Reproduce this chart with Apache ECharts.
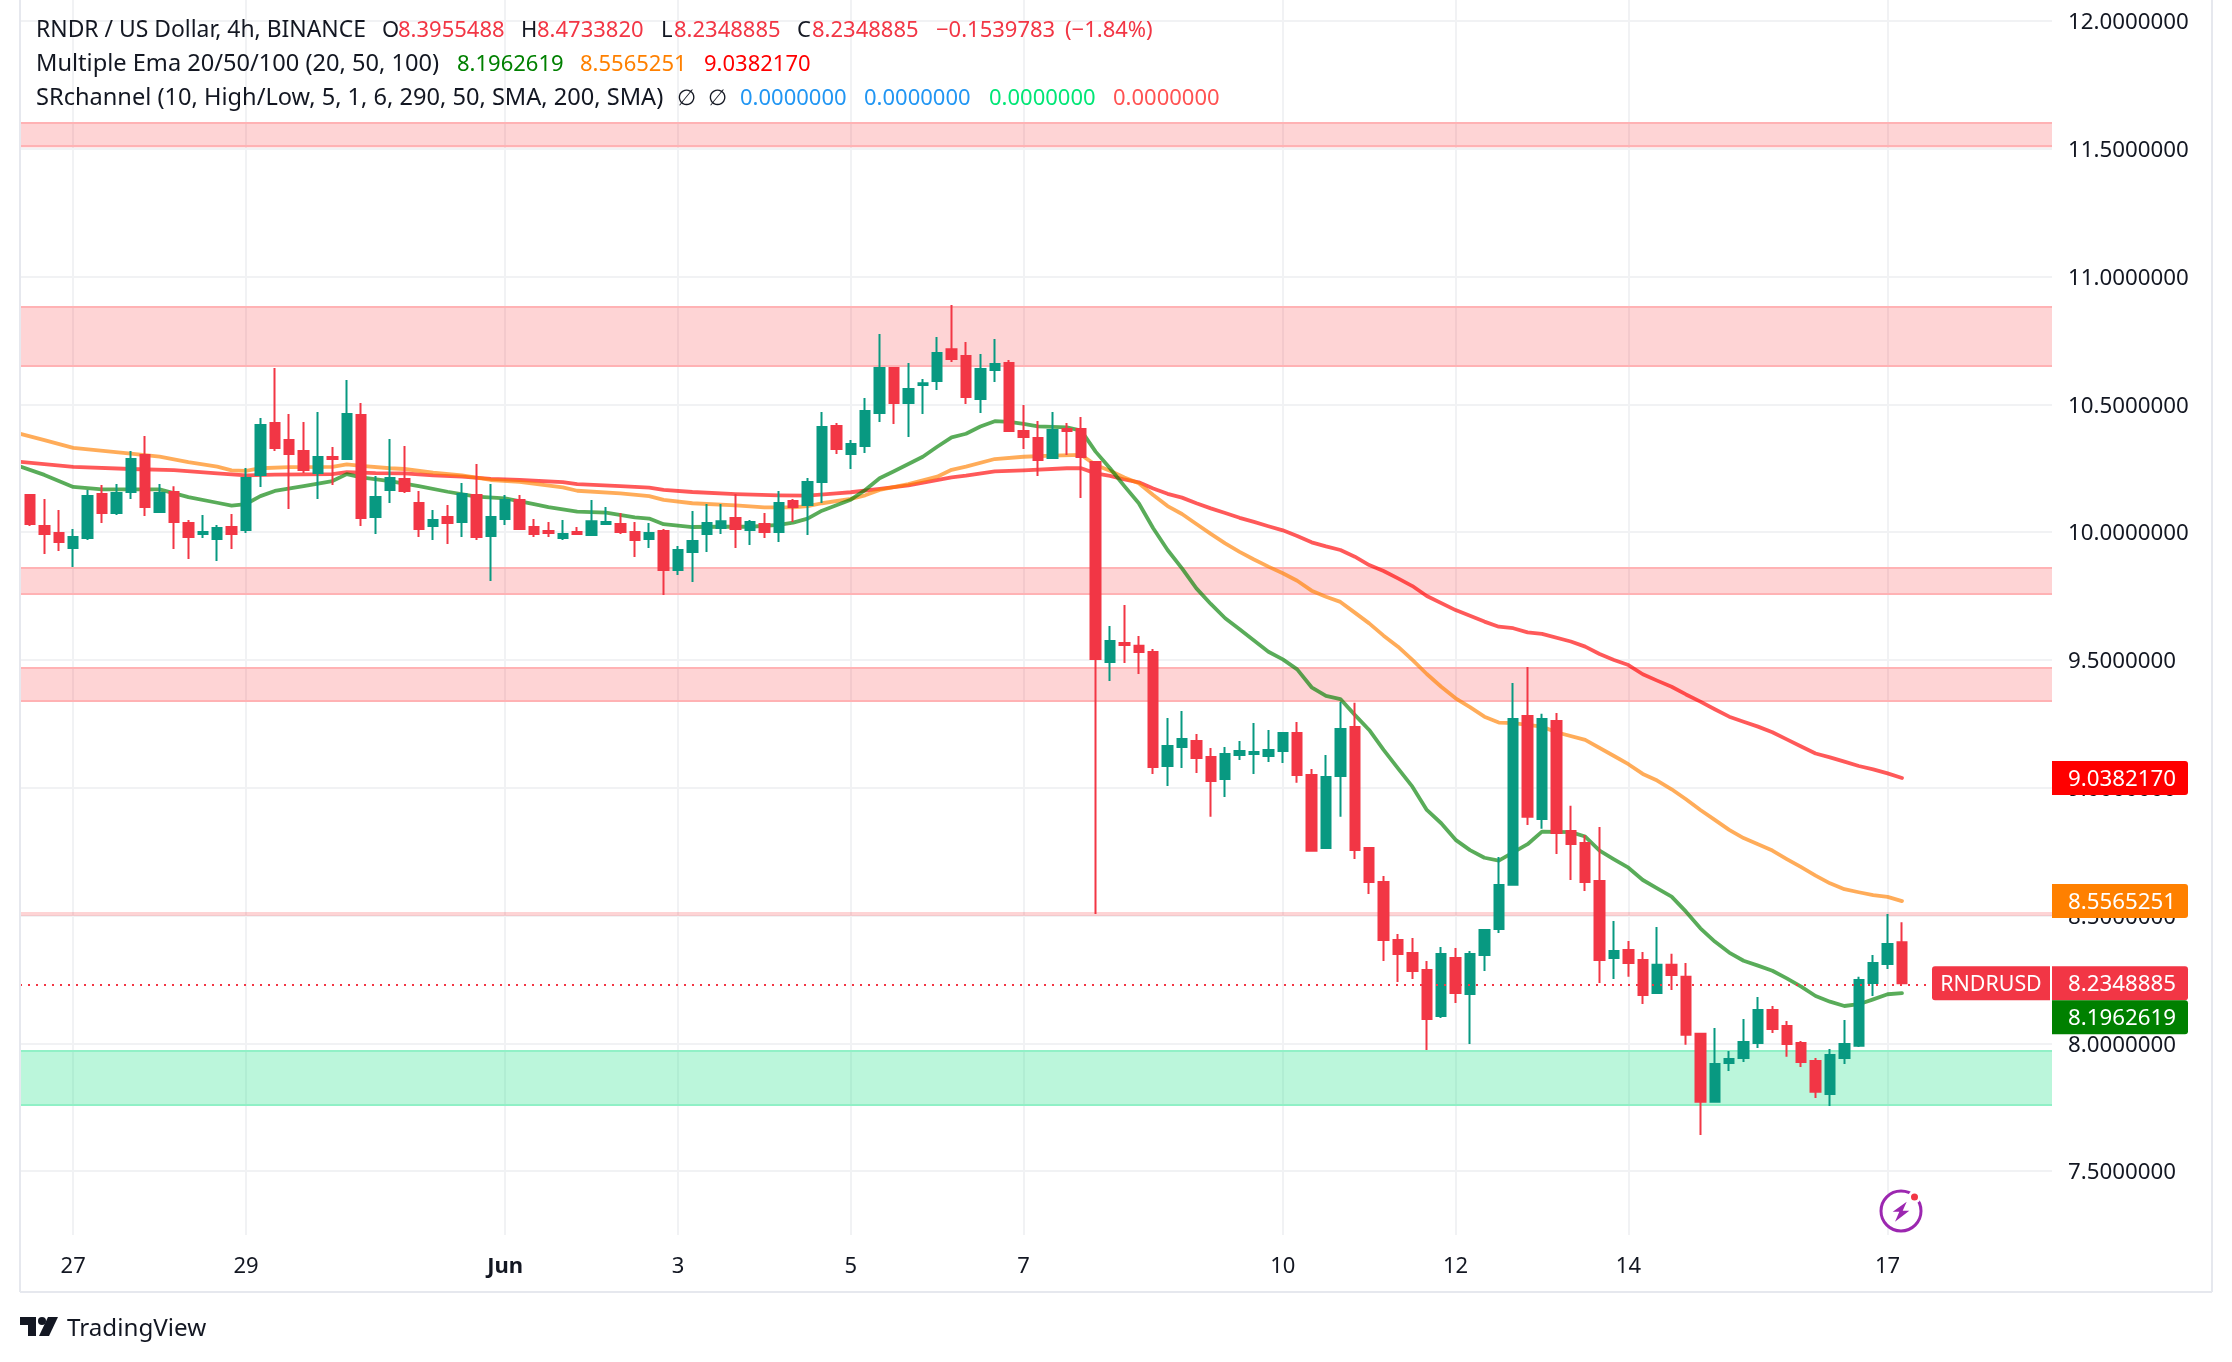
<!DOCTYPE html>
<html>
<head>
<meta charset="utf-8">
<title>RNDR / US Dollar</title>
<style>
    html, body { margin: 0; padding: 0; background: #fff; }
    #main { width: 2232px; height: 1362px; }
</style>
<script src="https://cdn.jsdelivr.net/npm/echarts@6/dist/echarts.min.js"></script>
</head>
<body>
<div id="main"></div>
<script>
// candles, index 0 is the first 4h bar on screen
var opens = [10.145,10.024,9.997,9.938,9.977,10.149,10.075,10.157,10.302,10.079,10.157,10.036,9.993,9.973,10.020,10.008,10.224,10.427,10.360,10.317,
    10.231,10.294,10.286,10.458,10.059,10.165,10.208,10.114,10.024,10.059,10.040,10.145,9.985,10.051,10.126,10.020,10.004,9.977,10.001,9.989,
    10.032,10.032,10.001,9.973,10.004,9.852,9.922,9.993,10.016,10.055,10.008,10.032,10.001,10.122,10.106,10.196,10.415,10.306,10.337,10.466,
    10.642,10.505,10.576,10.591,10.716,10.689,10.521,10.634,10.662,10.396,10.368,10.290,10.404,10.404,10.274,9.492,9.566,9.555,9.531,9.085,
    9.159,9.183,9.120,9.034,9.128,9.132,9.124,9.144,9.214,9.050,8.764,9.046,9.238,8.764,8.631,8.404,8.353,8.287,8.107,8.334,
    8.193,8.346,8.447,8.620,9.281,8.878,9.261,8.831,8.784,8.635,8.334,8.365,8.326,8.197,8.307,8.260,8.037,7.771,7.923,7.943,
    8.001,8.130,8.068,8.001,7.931,7.802,7.943,7.990,8.236,8.310,8.3955488];
var closes = [10.032,9.993,9.961,9.981,10.141,10.075,10.153,10.286,10.098,10.153,10.040,9.981,10.001,10.016,9.993,10.212,10.419,10.329,10.306,10.243,
    10.294,10.286,10.462,10.055,10.137,10.212,10.161,10.012,10.047,10.036,10.149,9.981,10.059,10.126,10.012,9.993,9.997,9.993,9.993,10.043,
    10.040,10.001,9.969,9.997,9.852,9.930,9.965,10.036,10.043,10.012,10.040,10.001,10.114,10.098,10.196,10.411,10.325,10.345,10.474,10.642,
    10.505,10.560,10.583,10.701,10.677,10.529,10.638,10.658,10.396,10.372,10.282,10.400,10.396,10.294,9.504,9.574,9.558,9.531,9.081,9.163,
    9.191,9.116,9.026,9.132,9.144,9.140,9.148,9.214,9.050,8.753,9.042,9.230,8.756,8.631,8.404,8.349,8.283,8.095,8.349,8.197,
    8.349,8.443,8.619,9.269,8.886,9.269,8.823,8.780,8.631,8.326,8.361,8.314,8.189,8.307,8.267,8.033,7.771,7.919,7.939,8.005,
    8.130,8.056,7.997,7.927,7.810,7.954,7.997,8.248,8.314,8.389,8.2348885];
var lows = [10.024,9.914,9.926,9.864,9.969,10.036,10.067,10.130,10.063,10.079,9.934,9.895,9.977,9.887,9.934,9.997,10.177,10.317,10.091,10.231,
    10.130,10.184,10.282,10.024,9.993,10.114,10.153,9.981,9.969,9.954,9.981,9.969,9.809,10.028,10.012,9.981,9.981,9.969,9.993,9.989,
    10.032,9.993,9.903,9.938,9.754,9.832,9.805,9.922,9.993,9.938,9.950,9.977,9.961,10.040,9.989,10.114,10.306,10.247,10.310,10.431,
    10.423,10.372,10.462,10.556,10.666,10.501,10.466,10.587,10.392,10.325,10.220,10.286,10.302,10.134,8.506,9.418,9.488,9.445,9.054,9.007,
    9.077,9.058,8.886,8.964,9.108,9.054,9.101,9.097,9.019,8.753,8.760,8.886,8.721,8.584,8.322,8.240,8.252,7.974,8.099,8.158,
    7.997,8.283,8.432,8.616,8.854,8.839,8.741,8.639,8.596,8.236,8.252,8.260,8.154,8.193,8.209,7.994,7.641,7.771,7.892,7.927,
    7.982,8.040,7.947,7.907,7.786,7.755,7.919,7.986,8.185,8.291,8.2348885];
var highs = [10.149,10.130,10.087,10.012,10.165,10.184,10.188,10.317,10.376,10.188,10.180,10.047,10.067,10.028,10.071,10.251,10.447,10.642,10.462,10.431,
    10.470,10.333,10.595,10.505,10.220,10.364,10.337,10.161,10.087,10.106,10.192,10.267,10.188,10.145,10.145,10.051,10.040,10.047,10.020,10.126,
    10.098,10.075,10.040,10.036,10.012,9.946,10.083,10.110,10.110,10.149,10.047,10.075,10.161,10.130,10.212,10.470,10.427,10.360,10.525,10.775,
    10.642,10.662,10.599,10.763,10.889,10.744,10.697,10.756,10.673,10.497,10.435,10.470,10.427,10.450,10.274,9.633,9.715,9.594,9.543,9.273,
    9.300,9.210,9.155,9.159,9.183,9.253,9.226,9.214,9.257,9.073,9.128,9.335,9.332,8.764,8.655,8.428,8.412,8.322,8.377,8.373,
    8.361,8.443,8.729,9.410,9.472,9.289,9.292,8.929,8.815,8.846,8.479,8.400,8.357,8.455,8.350,8.314,8.040,8.060,7.970,8.095,
    8.181,8.146,8.087,8.009,7.943,7.978,8.091,8.260,8.346,8.506,8.4733820];

// EMA lines, read at the bars where the line visibly bends
var ema20Idx = [-1,1,3,5,7,9,11,13,14,15,16,17,19,21,22,23,25,27,29,31,33,35,36,38,40,42,43,44,46,48,50,52,53,54,55,57,58,59,60,62,63,64,65,66,67,68,69,70,72,73,
    74,75,76,77,78,79,80,81,82,83,84,86,87,88,89,90,91,92,93,94,95,96,97,98,99,100,101,102,104,105,107,108,109,110,111,
    112,113,114,115,116,117,118,119,120,121,122,123,124,125,126,127,128,129,130];
var ema20 = [10.263,10.224,10.177,10.167,10.167,10.167,10.137,10.115,10.104,10.110,10.141,10.161,10.180,10.200,10.227,10.214,10.200,10.180,10.158,10.139,10.132,10.110,10.098,10.080,10.076,10.058,10.053,10.031,10.020,10.021,10.021,10.028,10.037,10.053,10.084,10.127,10.165,10.211,10.238,10.295,10.334,10.371,10.385,10.413,10.434,10.431,10.424,10.414,10.410,10.397,
    10.315,10.250,10.180,10.113,10.015,9.930,9.858,9.780,9.719,9.663,9.620,9.532,9.502,9.463,9.393,9.359,9.347,9.285,9.226,9.148,9.076,9.004,8.913,8.861,8.796,8.756,8.726,8.715,8.779,8.828,8.826,8.809,8.754,8.720,8.687,
    8.639,8.606,8.574,8.515,8.450,8.398,8.355,8.323,8.304,8.284,8.254,8.222,8.185,8.163,8.146,8.153,8.172,8.192,8.1962619];
var ema50Idx = [-1,1,3,7,9,11,13,14,15,16,18,21,22,23,25,26,28,30,32,34,37,38,41,43,44,46,49,51,53,54,55,57,58,59,61,63,64,65,67,69,71,73,
    74,75,76,77,78,79,80,81,82,83,84,85,86,87,88,89,90,91,92,93,94,95,96,97,98,99,100,101,102,103,104,105,106,108,110,
    111,112,113,114,115,116,117,118,119,120,121,122,123,124,125,126,127,128,129,130];
var ema50 = [10.389,10.360,10.330,10.307,10.295,10.274,10.256,10.242,10.240,10.250,10.254,10.255,10.265,10.259,10.250,10.247,10.233,10.222,10.204,10.197,10.175,10.162,10.152,10.141,10.126,10.113,10.105,10.097,10.097,10.102,10.113,10.130,10.144,10.165,10.188,10.217,10.244,10.256,10.286,10.295,10.299,10.302,
    10.263,10.240,10.214,10.191,10.145,10.102,10.071,10.032,9.993,9.956,9.923,9.893,9.865,9.839,9.810,9.771,9.747,9.727,9.685,9.643,9.595,9.552,9.500,9.445,9.395,9.350,9.315,9.278,9.255,9.253,9.246,9.239,9.217,9.187,9.124,
    9.092,9.054,9.028,8.994,8.955,8.913,8.874,8.835,8.803,8.779,8.754,8.721,8.689,8.656,8.626,8.603,8.591,8.580,8.573,8.5565251];
var ema100Idx = [-1,3,7,10,13,15,17,21,22,24,26,28,30,32,34,37,38,41,43,44,46,49,52,54,56,57,59,61,64,65,67,69,72,73,
    74,75,76,77,78,79,80,81,82,83,84,85,86,87,88,89,90,91,92,93,94,95,96,97,99,101,102,103,104,105,107,108,
    109,110,111,112,113,114,115,116,117,118,119,120,121,122,123,124,125,126,127,128,129,130];
var ema100 = [10.277,10.255,10.247,10.243,10.230,10.222,10.225,10.227,10.235,10.231,10.230,10.222,10.217,10.208,10.204,10.196,10.188,10.180,10.174,10.165,10.157,10.149,10.144,10.143,10.152,10.156,10.169,10.183,10.214,10.221,10.238,10.242,10.250,10.250,
    10.230,10.220,10.206,10.195,10.171,10.150,10.135,10.113,10.093,10.075,10.056,10.040,10.023,10.007,9.985,9.960,9.944,9.930,9.904,9.871,9.848,9.819,9.789,9.750,9.695,9.650,9.630,9.624,9.608,9.602,9.572,9.552,
    9.523,9.500,9.480,9.444,9.419,9.395,9.365,9.337,9.307,9.278,9.258,9.239,9.217,9.189,9.161,9.134,9.119,9.102,9.085,9.072,9.056,9.0382170];

// support / resistance bands
var zoneTops = [11.600,10.885,9.860,9.470,8.514,7.966];
var zoneBottoms = [11.505,10.646,9.758,9.339,8.498,7.759];
var zoneKinds = ['res','res','res','res','thin','sup'];

// axis ticks
var dateTickIdx = [3,15,33,45,57,69,87,99,111,129];
var dateTickLabels = ['27','29','Jun','3','5','7','10','12','14','17'];
var priceTicks = [7.5,8,8.5,9,9.5,10,10.5,11,11.5,12];

// last values
var lastClose = 8.2348885;
var lastEma20 = 8.1962619;
var lastEma50 = 8.5565251;
var lastEma100 = 9.0382170;

var UP = '#089981', DOWN = '#f23645', INK = '#131722', GRID = '#f1f2f4', BORDER = '#e6e8ee';
var FONT = '"Noto Sans", sans-serif';

var chart = echarts.init(document.getElementById('main'), null, {renderer: 'canvas'});

function pairs(xs, ys) {
    return xs.map(function(x, i) { return [x, ys[i]]; });
}

function emaSeries(name, xs, ys, color) {
    return {
        name: name,
        type: 'line',
        z: 2,
        symbol: 'none',
        silent: true,
        data: pairs(xs, ys),
        lineStyle: {width: 3.8, color: color, opacity: 0.65, cap: 'round', join: 'round'}
    };
}

var candles = opens.map(function(o, i) {
    return [i, o, closes[i], lows[i], highs[i]];
});

var zoneAreas = zoneTops.map(function(top, i) {
    return [{
        yAxis: top,
        itemStyle: {
            color: zoneKinds[i] === 'sup' ? 'rgba(20,225,130,0.29)' : 'rgba(250,50,55,0.21)'
        }
    }, {yAxis: zoneBottoms[i]}];
});

// band edges, the thin band has none
var zoneEdges = [];
zoneTops.forEach(function(top, i) {
    if (zoneKinds[i] === 'thin') { return; }
    var color = zoneKinds[i] === 'sup' ? '#90f0c6' : '#ffb2b4';
    zoneEdges.push({yAxis: top, lineStyle: {color: color}});
    zoneEdges.push({yAxis: zoneBottoms[i], lineStyle: {color: color}});
});

chart.setOption({
    backgroundColor: '#fff',
    animation: false,
    grid: {left: 20, top: 0, width: 2032, height: 1235},
    xAxis: {
        type: 'value',
        min: -0.694,
        max: 140.417,
        axisLine: {show: false},
        axisTick: {show: false, customValues: dateTickIdx},
        splitLine: {show: true, lineStyle: {color: GRID, width: 2}},
        axisLabel: {
            customValues: dateTickIdx,
            margin: 21,
            color: INK,
            fontFamily: FONT,
            fontSize: 22,
            formatter: function(v) {
                var s = dateTickLabels[dateTickIdx.indexOf(v)];
                return s === 'Jun' ? '{b|Jun}' : s;
            },
            rich: {b: {fontWeight: 'bold', fontFamily: FONT, fontSize: 22, color: INK}}
        }
    },
    yAxis: {
        type: 'value',
        position: 'right',
        min: 7.25,
        max: 12.082,
        axisLine: {show: false},
        axisTick: {show: false, customValues: priceTicks},
        splitLine: {show: true, lineStyle: {color: GRID, width: 2}},
        axisLabel: {
            customValues: priceTicks,
            margin: 16,
            color: INK,
            formatter: function(v) { return '{p|' + v.toFixed(7) + '}'; },
            rich: {p: {fontFamily: FONT, fontSize: 22.3, color: INK, padding: [4, 0, 0, 0]}}
        }
    },
    series: [
        {
            name: 'zones',
            type: 'line',
            z: 1,
            data: [],
            silent: true,
            markArea: {silent: true, z: 1, data: zoneAreas},
            markLine: {
                silent: true,
                z: 1,
                symbol: 'none',
                label: {show: false},
                lineStyle: {type: 'solid', width: 2, opacity: 1},
                data: zoneEdges
            }
        },
        emaSeries('EMA 100', ema100Idx, ema100, '#ff0000'),
        emaSeries('EMA 50', ema50Idx, ema50, '#ff8000'),
        emaSeries('EMA 20', ema20Idx, ema20, '#008000'),
        {
            name: 'RNDRUSD',
            type: 'candlestick',
            z: 3,
            barWidth: 10,
            data: candles,
            itemStyle: {color: UP, color0: DOWN, borderColor: UP, borderColor0: DOWN, borderWidth: 2},
            markLine: {
                silent: true,
                symbol: 'none',
                z: 4,
                label: {show: false},
                lineStyle: {color: DOWN, type: [2, 6], width: 2, opacity: 1},
                data: [{yAxis: lastClose}]
            }
        }
    ]
});

function text(x, y, s, color, extra) {
    var style = {x: x, y: y, text: s, fill: color, font: '22px ' + FONT, textVerticalAlign: 'middle'};
    for (var k in extra) { style[k] = extra[k]; }
    return {type: 'text', z: 110, silent: true, style: style};
}

function tag(yCenter, label, color) {
    return [{
        type: 'rect', z: 105, silent: true,
        shape: {x: 2052, y: yCenter - 17, width: 136, height: 34, r: [0, 3, 3, 0]},
        style: {fill: color}
    }, text(2068, yCenter + 1.5, label, '#fff', {font: '22.3px ' + FONT})];
}

var py = function(v) { return chart.convertToPixel({yAxisIndex: 0}, v); };
var closeY = py(lastClose);

// x, y, text, colour, font size if not 22
var legendTexts = [
    [36, 30.5, 'RNDR / US Dollar, 4h, BINANCE', INK, 22.9],
    [382, 30.5, 'O', INK], [398, 30.5, '8.3955488', DOWN],
    [521, 30.5, 'H', INK], [537, 30.5, '8.4733820', DOWN],
    [661, 30.5, 'L', INK], [674, 30.5, '8.2348885', DOWN],
    [797, 30.5, 'C', INK], [812, 30.5, '8.2348885', DOWN],
    [936, 30.5, '\u22120.1539783', DOWN], [1065, 30.5, '(\u22121.84%)', DOWN],
    [36, 64.5, 'Multiple Ema 20/50/100 (20, 50, 100)', INK, 23.6],
    [457, 64.5, '8.1962619', '#008000'], [580, 64.5, '8.5565251', '#ff8000'], [704, 64.5, '9.0382170', '#ff0000'],
    [36, 98.5, 'SRchannel (10, High/Low, 5, 1, 6, 290, 50, SMA, 200, SMA)', INK, 23.6],
    [677, 98.5, '\u2205', INK], [708, 98.5, '\u2205', INK],
    [740, 98.5, '0.0000000', '#2196f3'], [864, 98.5, '0.0000000', '#2196f3'],
    [989, 98.5, '0.0000000', '#00e676'], [1113, 98.5, '0.0000000', '#ff5252']
];

var gfx = [
    // covers the line ends that stick out past the pane
    {type: 'rect', z: 49, silent: true, shape: {x: 0, y: 0, width: 20, height: 1292}, style: {fill: '#fff'}},
    // pane frame
    {type: 'line', z: 50, silent: true, shape: {x1: 20, y1: 0, x2: 20, y2: 1292}, style: {stroke: BORDER, lineWidth: 2}},
    {type: 'line', z: 50, silent: true, shape: {x1: 20, y1: 1292, x2: 2212, y2: 1292}, style: {stroke: BORDER, lineWidth: 2}},
    {type: 'line', z: 50, silent: true, shape: {x1: 2212, y1: 0, x2: 2212, y2: 1292}, style: {stroke: BORDER, lineWidth: 2}},
    // RNDRUSD name tag
    {type: 'rect', z: 105, silent: true, shape: {x: 1932, y: closeY - 17, width: 118, height: 34, r: [3, 0, 0, 3]}, style: {fill: DOWN}},
    text(1991, closeY + 1.5, 'RNDRUSD', '#fff', {textAlign: 'center', font: '21.4px ' + FONT}),
    // TradingView mark
    {type: 'polygon', z: 100, silent: true, shape: {points: [[20,1317],[36,1317],[36,1336],[28,1336],[28,1325],[20,1325]]}, style: {fill: INK}},
    {type: 'circle', z: 100, silent: true, shape: {cx: 42, cy: 1321, r: 4}, style: {fill: INK}},
    {type: 'polygon', z: 100, silent: true, shape: {points: [[48,1317],[58,1317],[49,1336],[39,1336]]}, style: {fill: INK}},
    text(67, 1329.5, 'TradingView', INK, {font: '24.2px ' + FONT}),
    // lightning badge
    {type: 'circle', z: 100, silent: true, shape: {cx: 1901, cy: 1211, r: 20}, style: {fill: '#fff', stroke: '#9c27b0', lineWidth: 3}},
    {type: 'polygon', z: 101, silent: true, shape: {points: [[1906.7,1201.7],[1892.7,1211.7],[1899.3,1211.7],[1895,1221.7],[1909.3,1210.7],[1902.7,1210.7]]}, style: {fill: '#9c27b0'}},
    {type: 'circle', z: 102, silent: true, shape: {cx: 1914.5, cy: 1197, r: 5}, style: {fill: DOWN, stroke: '#fff', lineWidth: 3}}
];

legendTexts.forEach(function(t) {
    gfx.push(text(t[0], t[1], t[2], t[3], t[4] ? {font: t[4] + 'px ' + FONT} : {}));
});
gfx = gfx.concat(
    tag(py(lastEma100), lastEma100.toFixed(7), '#ff0000'),
    tag(py(lastEma50), lastEma50.toFixed(7), '#ff8000'),
    tag(closeY, lastClose.toFixed(7), DOWN),
    tag(closeY + 34, lastEma20.toFixed(7), '#008000')
);

chart.setOption({graphic: gfx});
</script>
</body>
</html>
